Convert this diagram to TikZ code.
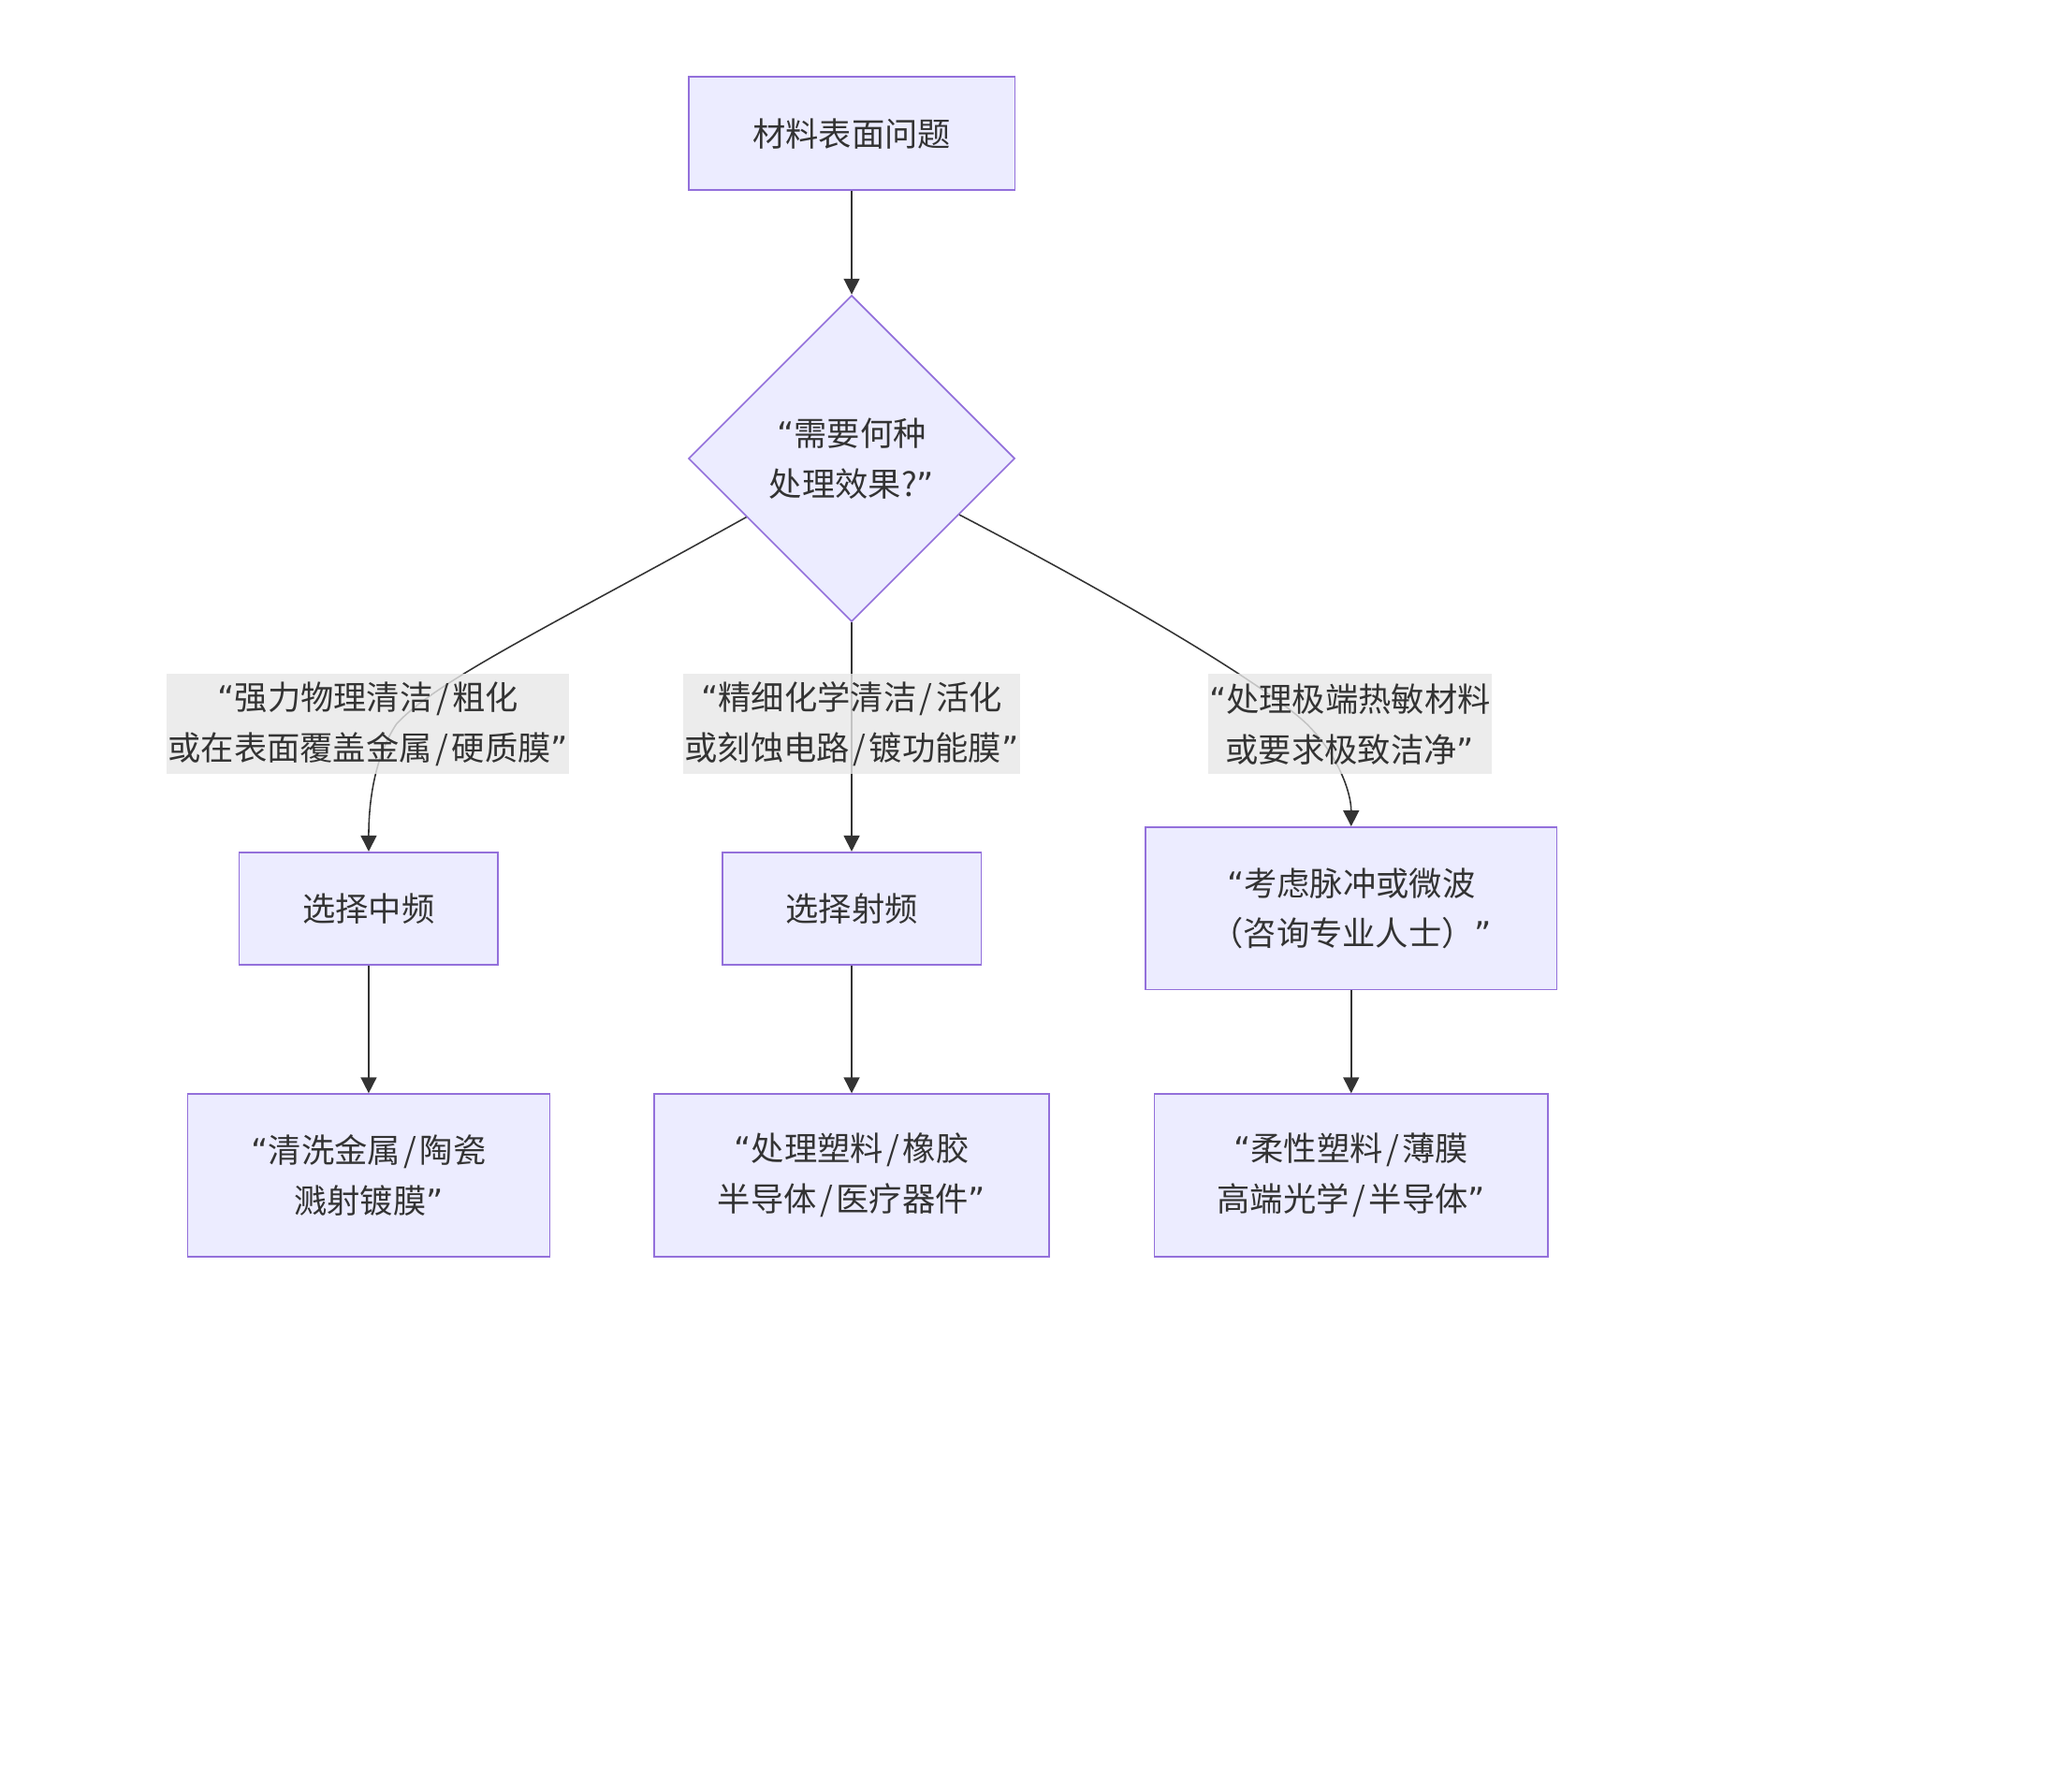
\documentclass[tikz,border=0pt]{standalone}
\usepackage{fontspec}
\setmainfont{Noto Sans CJK SC}
\newfontfamily\quotefont{DejaVu Sans}
\newcommand\oq{{\quotefont “}}
\newcommand\cq{{\quotefont ”}}
\newcommand\sla{{\kern2.5pt/\kern2.5pt}}
\usetikzlibrary{shapes.geometric,arrows.meta}
\definecolor{boxfill}{HTML}{ECECFF}
\definecolor{boxline}{HTML}{9370DB}
\definecolor{ink}{HTML}{333333}
\definecolor{lblbg}{HTML}{E8E8E8}
\begin{document}
\begin{tikzpicture}[x=1pt,y=-1pt,
  base/.style={text=ink,font=\fontsize{25}{38}\selectfont,align=center},
  proc/.style={base,draw=boxline,fill=boxfill,line width=1.2pt,rectangle,inner sep=0pt},
  decide/.style={base,draw=boxline,fill=boxfill,line width=1.2pt,diamond,inner sep=0pt,minimum width=247pt,minimum height=247pt},
  elabel/.style={base,fill=lblbg,fill opacity=0.8,text opacity=1,inner xsep=1pt,inner ysep=0pt,minimum height=76pt},
  conn/.style={draw=ink,line width=1.1pt,-{Triangle[length=12pt,width=12pt]}}]
\path[use as bounding box,fill=white] (0,0) rectangle (1568,1356);
\node[proc,minimum width=247pt,minimum height=86pt] (top) at (644.5,101) {材料表面问题};
\node[decide] (dia) at (644.5,347) {\oq 需要何种\\处理效果?\cq};
\node[proc,minimum width=196pt,minimum height=85pt] (mf) at (279,687.5) {选择中频};
\node[proc,minimum width=196pt,minimum height=85pt] (rf) at (644.5,687.5) {选择射频};
\node[proc,minimum width=311pt,minimum height=123pt] (pm) at (1022.5,687.5) {\oq 考虑脉冲或微波\\（咨询专业人士）\cq};
\node[proc,minimum width=274pt,minimum height=123pt] (c1) at (279,889.5) {\oq 清洗金属\sla 陶瓷\\溅射镀膜\cq};
\node[proc,minimum width=299pt,minimum height=123pt] (c2) at (644.5,889.5) {\oq 处理塑料\sla 橡胶\\半导体\sla 医疗器件\cq};
\node[proc,minimum width=298pt,minimum height=123pt] (c3) at (1022.5,889.5) {\oq 柔性塑料\sla 薄膜\\高端光学\sla 半导体\cq};
\draw[conn] (top) -- (dia);
\draw[conn] (dia) .. controls (420,472) and (330,515) .. (300,548) .. controls (284,572) and (279,605) .. (mf.north);
\draw[conn] (dia) -- (rf);
\draw[conn] (dia) .. controls (880,470) and (965,525) .. (989,548) .. controls (1013,572) and (1022.5,600) .. (pm.north);
\draw[conn] (mf) -- (c1);
\draw[conn] (rf) -- (c2);
\draw[conn] (pm) -- (c3);
\node[elabel] (l1) at (278.5,548) {\oq 强力物理清洁\sla 粗化\\或在表面覆盖金属\sla 硬质膜\cq};
\node[elabel] (l2) at (644.5,548) {\oq 精细化学清洁\sla 活化\\或刻蚀电路\sla 镀功能膜\cq};
\node[elabel] (l3) at (1021.5,548) {\oq 处理极端热敏材料\\或要求极致洁净\cq};
\end{tikzpicture}
\end{document}
